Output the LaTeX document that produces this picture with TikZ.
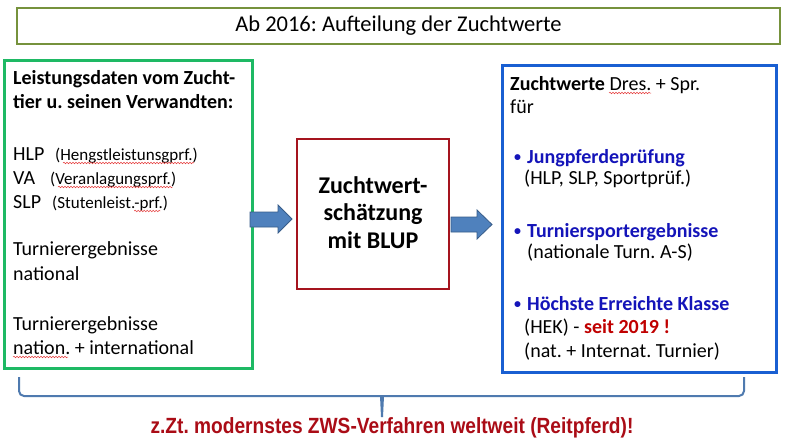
\documentclass[tikz,border=0pt]{standalone}
\usepackage{fontspec}
\setmainfont{Carlito}
\newfontfamily\arialfont[FakeStretch=0.87]{Liberation Sans}
\usetikzlibrary{decorations.pathmorphing}
\frenchspacing
\definecolor{olivebox}{RGB}{118,146,60}
\definecolor{greenbox}{RGB}{30,185,100}
\definecolor{bluebox}{RGB}{25,95,210}
\definecolor{redbox}{RGB}{165,20,30}
\definecolor{bluetext}{RGB}{20,20,185}
\definecolor{redtext}{RGB}{192,0,0}
\definecolor{darkred}{RGB}{170,12,22}
\definecolor{arrowfill}{RGB}{79,129,189}
\definecolor{arrowline}{RGB}{56,93,138}
\definecolor{bracecol}{RGB}{79,122,175}
\definecolor{squig}{RGB}{230,60,60}
\tikzset{
  txt/.style={anchor=base west, inner sep=0pt, font=\fontsize{20}{24}\selectfont},
  btxt/.style={txt, font=\fontsize{20}{24}\selectfont\bfseries},
  stxt/.style={txt, font=\fontsize{17}{20}\selectfont},
  bul/.style={anchor=base west, inner sep=0pt, text=bluetext, font=\fontsize{14}{16}\selectfont\bfseries},
  ctxt/.style={anchor=base, inner sep=0pt, font=\fontsize{24}{28}\selectfont\bfseries},
  blockarrow/.style={draw=arrowline, fill=arrowfill, line width=0.8pt, line join=miter},
  spell/.style={draw=squig, line width=0.5pt, decorate, decoration={snake, amplitude=0.8pt, segment length=3pt}}
}
\begin{document}
\begin{tikzpicture}[x=1pt,y=-1pt]
\useasboundingbox (0,0) rectangle (787,442);
\fill[white] (0,0) rectangle (787,442);
% title
\node[draw=olivebox, line width=2pt, minimum width=763pt, minimum height=36pt, inner sep=0pt,
  font=\fontsize{22.5}{26}\selectfont] (title) at (398.5,26) {Ab 2016: Aufteilung der Zuchtwerte};
% left box
\node[draw=greenbox, line width=3pt, minimum width=248pt, minimum height=308pt, inner sep=0pt] (left) at (128,214) {};
\node[btxt] (l1) at (13,84) {Leistungsdaten vom Zucht-};
\node[btxt] (l2) at (13,108) {tier u. seinen Verwandten:};
\node[txt] (l3) at (13,160) {HLP};
\node[stxt] (l3b) at (55,160) {(Hengstleistunsgprf.)};
\node[txt] (l4) at (13,184) {VA};
\node[stxt] (l4b) at (50,184) {(Veranlagungsprf.)};
\node[txt] (l5) at (13,208) {SLP};
\node[stxt] (l5b) at (52,208) {(Stutenleist.-prf.)};
\node[txt] (l6) at (13,255) {Turnierergebnisse};
\node[txt] (l7) at (13,280) {national};
\node[txt] (l8) at (13,330) {Turnierergebnisse};
\node[txt] (l9) at (13,354) {nation. + international};
% middle box
\node[draw=redbox, line width=2.8pt, minimum width=152pt, minimum height=150pt, inner sep=0pt] (mid) at (373,214) {};
\node[ctxt] (m1) at (373,193) {Zuchtwert-};
\node[ctxt] (m2) at (373,220) {schätzung};
\node[ctxt] (m3) at (373,248) {mit BLUP};
% right box
\node[draw=bluebox, line width=3pt, minimum width=274pt, minimum height=307pt, inner sep=0pt] (right) at (639,218.5) {};
\node[txt] (r1) at (510,90) {\textbf{Zuchtwerte} Dres. + Spr.};
\node[txt] (r2) at (510,113) {für};
\node[bul] (r3dot) at (514,161) {•};
\node[btxt, text=bluetext] (r3) at (527,163) {Jungpferdeprüfung};
\node[txt] (r4) at (524,184) {(HLP, SLP, Sportprüf.)};
\node[bul] (r5dot) at (514,235) {•};
\node[btxt, text=bluetext] (r5) at (527,237) {Turniersportergebnisse};
\node[txt] (r6) at (527,258) {(nationale Turn. A-S)};
\node[bul] (r7dot) at (514,308) {•};
\node[btxt, text=bluetext] (r7) at (527,310) {Höchste Erreichte Klasse};
\node[txt] (r8) at (524,333) {(HEK) - \textcolor{redtext}{\bfseries seit 2019 !}};
\node[txt] (r9) at (524,357) {(nat. + Internat. Turnier)};
% block arrows
\draw[blockarrow] (250,212) -- (278,212) -- (278,205) -- (292,219) -- (278,233) -- (278,227) -- (250,227) -- cycle;
\draw[blockarrow] (451,217) -- (477,217) -- (477,210) -- (492,224.5) -- (477,239) -- (477,232) -- (451,232) -- cycle;
% brace
\coordinate (bl) at (19,377);
\coordinate (br) at (744,377);
\coordinate (bt) at (382,417);
\draw[bracecol, line width=2pt, rounded corners=5pt]
  (bl) -- (19,396) -- (376,396) .. controls (381,396) .. (bt);
\draw[bracecol, line width=2pt, rounded corners=5pt]
  (br) -- (744,396) -- (388,396) .. controls (383,396) .. (bt);
\node[anchor=base, inner sep=0pt, text=darkred, font=\arialfont\fontsize{22}{26}\selectfont\bfseries] (bottom) at (392,433)
  {z.Zt. modernstes ZWS-Verfahren weltweit (Reitpferd)!};
% spelling marks
\draw[spell] ([xshift=8pt,yshift=-3pt]l3b.base west) -- ([xshift=-4pt,yshift=-3pt]l3b.base east);
\draw[spell] ([xshift=8pt,yshift=-3pt]l4b.base west) -- ([xshift=-4pt,yshift=-3pt]l4b.base east);
\draw[spell] ([xshift=-34pt,yshift=-3pt]l5b.base east) -- ([xshift=-8pt,yshift=-3pt]l5b.base east);
\draw[spell] ([yshift=-3pt]l9.base west) -- ([xshift=55pt,yshift=-3pt]l9.base west);
\draw[spell] ([xshift=99pt,yshift=-3pt]r1.base west) -- ([xshift=141pt,yshift=-3pt]r1.base west);
\end{tikzpicture}
\end{document}
